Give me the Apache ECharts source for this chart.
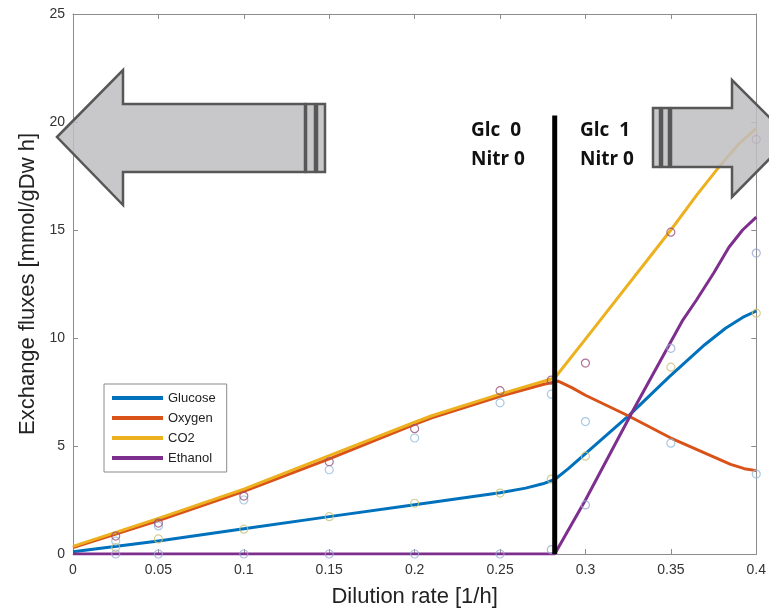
<!DOCTYPE html>
<html>
<head>
    <meta charset="utf-8">
    <title>Exchange fluxes</title>
    <script src="https://cdn.jsdelivr.net/npm/echarts@6/dist/echarts.min.js"></script>
    <style>
        html, body { margin: 0; padding: 0; background: #fff; }
        #main { width: 769px; height: 616px; }
    </style>
</head>
<body>
    <div id="main"></div>
    <script type="text/javascript">
        // model curves (x = dilution rate, y = flux)
        var glucoseX = [0, 0.05, 0.1, 0.15, 0.2, 0.25, 0.265, 0.275, 0.282, 0.29, 0.3, 0.326, 0.349, 0.37, 0.382, 0.392, 0.4];
        var glucoseY = [0.1, 0.6, 1.17, 1.73, 2.28, 2.84, 3.05, 3.25, 3.45, 3.95, 4.65, 6.45, 8.2, 9.7, 10.45, 10.95, 11.25];

        var oxygenX = [0, 0.05, 0.1, 0.15, 0.2, 0.21, 0.25, 0.275, 0.284, 0.292, 0.3, 0.325, 0.35, 0.375, 0.385, 0.393, 0.4];
        var oxygenY = [0.3, 1.55, 2.9, 4.4, 6.0, 6.3, 7.3, 7.85, 8.0, 7.7, 7.35, 6.4, 5.37, 4.5, 4.15, 3.95, 3.86];

        var co2X = [0, 0.05, 0.1, 0.15, 0.2, 0.21, 0.25, 0.282, 0.3, 0.35, 0.365, 0.378, 0.39, 0.4];
        var co2Y = [0.35, 1.65, 3.0, 4.55, 6.1, 6.4, 7.4, 8.15, 9.95, 15.0, 16.6, 17.9, 19.0, 19.7];

        var ethanolX = [0, 0.282, 0.3, 0.328, 0.357, 0.365, 0.375, 0.384, 0.392, 0.4];
        var ethanolY = [0, 0, 2.5, 6.67, 10.83, 11.76, 13.0, 14.2, 15.0, 15.6];

        // experimental points
        var dilution = [0.025, 0.05, 0.1, 0.15, 0.2, 0.25, 0.28, 0.3, 0.35, 0.4];
        var expCO2 = [0.83, 1.43, 2.68, 4.27, 5.8, 7.56, 8.05, 8.84, 14.9, 19.2];
        var expO2 = [0.6, 1.3, 2.5, 3.9, 5.37, 7.0, 7.4, 6.13, 5.13, 3.7];
        var expGlc = [0.3, 0.7, 1.15, 1.73, 2.35, 2.82, 3.47, 4.53, 8.65, 11.15];
        var expEtOH = [0, 0, 0, 0, 0, 0, 0.2, 2.27, 9.52, 13.93];

        // switch line
        var switchX = 0.282;
        var switchTop = 20.3;

        function pairs(xs, ys) {
            var out = [];
            for (var i = 0; i < xs.length; i++) {
                out.push([xs[i], ys[i]]);
            }
            return out;
        }

        function curve(name, xs, ys, color) {
            return {
                name: name,
                type: 'line',
                data: pairs(xs, ys),
                showSymbol: false,
                lineStyle: { color: color, width: 3, join: 'round' },
                itemStyle: { color: color },
                z: 3
            };
        }

        function dots(name, ys, color) {
            return {
                name: name,
                type: 'scatter',
                data: pairs(dilution, ys),
                symbol: 'circle',
                symbolSize: 8,
                itemStyle: { color: 'rgba(0,0,0,0)', borderColor: color, borderWidth: 1.2 },
                z: 4
            };
        }

        var axisGray = '#8c8c8c';
        var arrowStyle = { fill: 'rgba(190,189,191,0.85)', stroke: '#575757', lineWidth: 2.5 };

        var myChart = echarts.init(document.getElementById('main'));

        var option = {
            animation: false,
            backgroundColor: '#fff',
            grid: { left: 73, right: 8, top: 14, bottom: 62 },
            legend: {
                data: ['Glucose', 'Oxygen', 'CO2', 'Ethanol'],
                orient: 'vertical',
                left: 104,
                top: 384,
                icon: 'rect',
                itemWidth: 51,
                itemHeight: 4,
                itemGap: 6,
                padding: [7, 11, 7, 8],
                borderColor: '#8a8a8a',
                borderWidth: 1,
                backgroundColor: '#fff',
                textStyle: { fontFamily: 'Liberation Sans', fontSize: 13, color: '#222', lineHeight: 14 }
            },
            xAxis: [{
                type: 'value',
                min: 0, max: 0.4, interval: 0.05,
                name: 'Dilution rate [1/h]',
                nameLocation: 'middle',
                nameGap: 32,
                nameTextStyle: { fontFamily: 'Liberation Sans', fontSize: 22, color: '#222' },
                axisLine: { show: true, onZero: false, lineStyle: { color: axisGray } },
                axisTick: { show: true, inside: true, length: 5, lineStyle: { color: axisGray } },
                axisLabel: { margin: 9, fontFamily: 'Liberation Sans', fontSize: 14, color: '#333' },
                splitLine: { show: false }
            }, {
                type: 'value',
                position: 'top',
                min: 0, max: 0.4, interval: 0.05,
                axisLine: { show: true, onZero: false, lineStyle: { color: axisGray } },
                axisTick: { show: true, inside: true, length: 5, lineStyle: { color: axisGray } },
                axisLabel: { show: false },
                splitLine: { show: false }
            }],
            yAxis: [{
                type: 'value',
                min: 0, max: 25, interval: 5,
                name: 'Exchange fluxes [mmol/gDw h]',
                nameLocation: 'middle',
                nameGap: 34,
                nameTextStyle: { fontFamily: 'Liberation Sans', fontSize: 22, color: '#222' },
                axisLine: { show: true, onZero: false, lineStyle: { color: axisGray } },
                axisTick: { show: true, inside: true, length: 5, lineStyle: { color: axisGray } },
                axisLabel: { margin: 8, fontFamily: 'Liberation Sans', fontSize: 14, color: '#333' },
                splitLine: { show: false }
            }, {
                type: 'value',
                position: 'right',
                min: 0, max: 25, interval: 5,
                axisLine: { show: true, onZero: false, lineStyle: { color: axisGray } },
                axisTick: { show: true, inside: true, length: 5, lineStyle: { color: axisGray } },
                axisLabel: { show: false },
                splitLine: { show: false }
            }],
            series: [
                dots('Glucose exp', expGlc, '#c9c27a'),
                dots('Oxygen exp', expO2, '#93bcdc'),
                dots('CO2 exp', expCO2, '#9a4f78'),
                dots('Ethanol exp', expEtOH, '#98a9d4'),
                curve('Glucose', glucoseX, glucoseY, '#0072BD'),
                curve('Oxygen', oxygenX, oxygenY, '#D95319'),
                curve('CO2', co2X, co2Y, '#EDB120'),
                curve('Ethanol', ethanolX, ethanolY, '#7E2F8E'),
                {
                    name: 'switch',
                    type: 'line',
                    data: [[switchX, 0], [switchX, switchTop]],
                    showSymbol: false,
                    lineStyle: { color: '#000', width: 5 },
                    z: 5
                }
            ],
            graphic: [
                // left arrow
                { type: 'polygon', z: 100, shape: { points: [[57, 137], [123, 70], [123, 104], [305, 104], [305, 172], [123, 172], [123, 205]] }, style: arrowStyle },
                { type: 'rect', z: 100, shape: { x: 306, y: 104, width: 9, height: 68 }, style: arrowStyle },
                { type: 'rect', z: 100, shape: { x: 317, y: 104, width: 8, height: 68 }, style: arrowStyle },
                // right arrow
                { type: 'rect', z: 100, shape: { x: 653, y: 108, width: 7, height: 59 }, style: arrowStyle },
                { type: 'rect', z: 100, shape: { x: 662, y: 108, width: 7, height: 59 }, style: arrowStyle },
                { type: 'polygon', z: 100, shape: { points: [[671, 108], [732, 108], [732, 80], [790, 138], [732, 197], [732, 167], [671, 167]] }, style: arrowStyle },
                // regime labels
                { type: 'text', z: 101, left: 471, top: 116, style: { text: 'Glc  0\nNitr 0', fontFamily: 'Open Sans', fontWeight: 'bold', fontSize: 19, lineHeight: 29, fill: '#111' } },
                { type: 'text', z: 101, left: 580, top: 116, style: { text: 'Glc  1\nNitr 0', fontFamily: 'Open Sans', fontWeight: 'bold', fontSize: 19, lineHeight: 29, fill: '#111' } }
            ]
        };

        myChart.setOption(option);
    </script>
</body>
</html>
